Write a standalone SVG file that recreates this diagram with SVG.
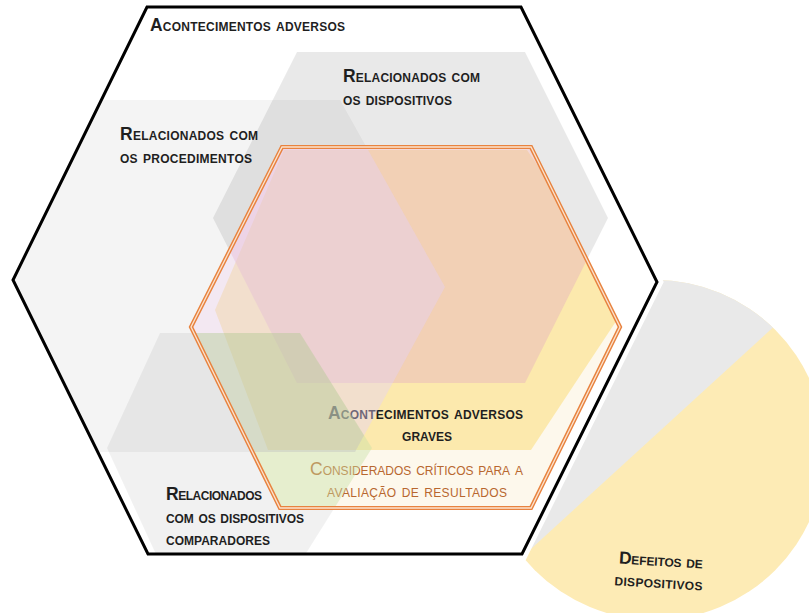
<svg xmlns="http://www.w3.org/2000/svg" xmlns:xlink="http://www.w3.org/1999/xlink" width="809" height="613" viewBox="0 0 809 613">
  <style>
    .lbl { font-family: "Liberation Sans", Arial, sans-serif; font-weight: bold; font-variant: small-caps; font-size: 17.5px; fill: #1f1f1f; }
    .crit-lbl { font-weight: normal; fill: #b8672f; }
    .grey-proc { fill: #000; fill-opacity: 0.045; }
    .grey-dev { fill: #000; fill-opacity: 0.085; }
    .grey-comp { fill: #000; fill-opacity: 0.055; }
    .tint-proc { fill: #e3d0fd; fill-opacity: 0.4; }
    .tint-dev { fill: #e6b1bf; fill-opacity: 0.45; }
    .tint-comp { fill: #c6dfa4; fill-opacity: 0.42; }
    .shade { fill: #000; fill-opacity: 0.045; }
    .outline { fill: none; stroke: #000; stroke-width: 3; stroke-linejoin: miter; }
  </style>
  <defs>
    <!-- outer category: adverse events -->
    <polygon id="hexOuter" points="147,7 521,7 657,282 522,554 148,554 13,280"/>
    <!-- critical for outcome evaluation (orange double border) -->
    <polygon id="hexCrit" points="282,147 531,147 620,327 531,508 280,508 191,327"/>
    <!-- grey sub-categories -->
    <polygon id="hexProc" points="-60,100 340,100 445,287 355,452 -60,452 -150,276"/>
    <polygon id="hexDev" points="297,52 525,52 608,218 525,383 297,383 213,218"/>
    <polygon id="hexComp" points="160,333 300,333 372,448 300,563 160,563 107,448"/>
    <!-- serious adverse events -->
    <polygon id="hexSerious" points="284,150 527,150 630,300 531,450 268,450 215,310"/>
    <clipPath id="clipOuter"><use xlink:href="#hexOuter"/></clipPath>
    <clipPath id="clipCrit"><use xlink:href="#hexCrit"/></clipPath>
    <clipPath id="clipProc"><use xlink:href="#hexProc"/></clipPath>
    <clipPath id="clipCircle"><circle cx="655" cy="450" r="170"/></clipPath>
  </defs>

  <!-- device defects: disc with a grey segment -->
  <g id="device-defects">
    <circle cx="655" cy="450" r="170" fill="#fdebb5"/>
    <polygon points="820,284.5 480,595.5 400,595.5 400,200 820,200" fill="#e9e9e9" clip-path="url(#clipCircle)"/>
    <text class="lbl" transform="rotate(3.5 660 575)">
      <tspan x="618" y="566" textLength="84" lengthAdjust="spacing">Defeitos de</tspan>
      <tspan x="615" y="588" textLength="88" lengthAdjust="spacing">dispositivos</tspan>
    </text>
  </g>

  <!-- adverse events: white body with a white halo -->
  <g id="adverse-events">
    <use xlink:href="#hexOuter" fill="#fff" stroke="#fff" stroke-width="12" stroke-linejoin="miter"/>
    <text class="lbl" x="150" y="31" textLength="195" lengthAdjust="spacing">Acontecimentos adversos</text>
  </g>

  <g id="procedures" clip-path="url(#clipOuter)">
    <use xlink:href="#hexProc" class="grey-proc"/>
    <text class="lbl">
      <tspan x="120" y="140" textLength="138" lengthAdjust="spacing">Relacionados com</tspan>
      <tspan x="120" y="163" textLength="132" lengthAdjust="spacing">os procedimentos</tspan>
    </text>
  </g>

  <g id="devices" clip-path="url(#clipOuter)">
    <use xlink:href="#hexDev" class="grey-dev"/>
    <text class="lbl">
      <tspan x="343" y="82" textLength="137" lengthAdjust="spacing">Relacionados com</tspan>
      <tspan x="343" y="105" textLength="109" lengthAdjust="spacing">os dispositivos</tspan>
    </text>
  </g>

  <g id="comparators" clip-path="url(#clipOuter)">
    <use xlink:href="#hexComp" class="grey-comp"/>
    <text class="lbl">
      <tspan x="166" y="500" textLength="96" lengthAdjust="spacing">Relacionados</tspan>
      <tspan x="166" y="523" textLength="138" lengthAdjust="spacing">com os dispositivos</tspan>
      <tspan x="166" y="545" textLength="104" lengthAdjust="spacing">comparadores</tspan>
    </text>
  </g>

  <!-- critical events: pale body and label -->
  <g id="critical">
    <use xlink:href="#hexCrit" fill="#fdf8ec"/>
    <text class="lbl crit-lbl">
      <tspan x="310" y="475" textLength="213" lengthAdjust="spacing">Considerados críticos para a</tspan>
      <tspan x="327" y="497" textLength="180" lengthAdjust="spacing">avaliação de resultados</tspan>
    </text>
  </g>

  <!-- serious adverse events -->
  <g id="serious" clip-path="url(#clipCrit)">
    <use xlink:href="#hexSerious" fill="#fce9ad"/>
    <text class="lbl">
      <tspan x="328" y="419" textLength="195" lengthAdjust="spacing">Acontecimentos adversos</tspan>
      <tspan x="402" y="441" textLength="50" lengthAdjust="spacing">graves</tspan>
    </text>
  </g>

  <!-- coloured overlaps of the sub-categories inside the critical area -->
  <g id="overlaps" clip-path="url(#clipCrit)">
    <use xlink:href="#hexDev" class="tint-dev"/>
    <use xlink:href="#hexProc" class="tint-proc"/>
    <use xlink:href="#hexComp" class="tint-comp"/>
    <!-- procedures and comparators together read a little greyer -->
    <g clip-path="url(#clipProc)">
      <use xlink:href="#hexComp" class="shade"/>
    </g>
  </g>

  <!-- double orange border of the critical area -->
  <g id="critical-border">
    <use xlink:href="#hexCrit" fill="none" stroke="#e8833f" stroke-width="4.2"/>
    <use xlink:href="#hexCrit" fill="none" stroke="#fbe3cf" stroke-width="1.3"/>
  </g>

  <g id="adverse-events-border">
    <use xlink:href="#hexOuter" class="outline"/>
  </g>
</svg>
